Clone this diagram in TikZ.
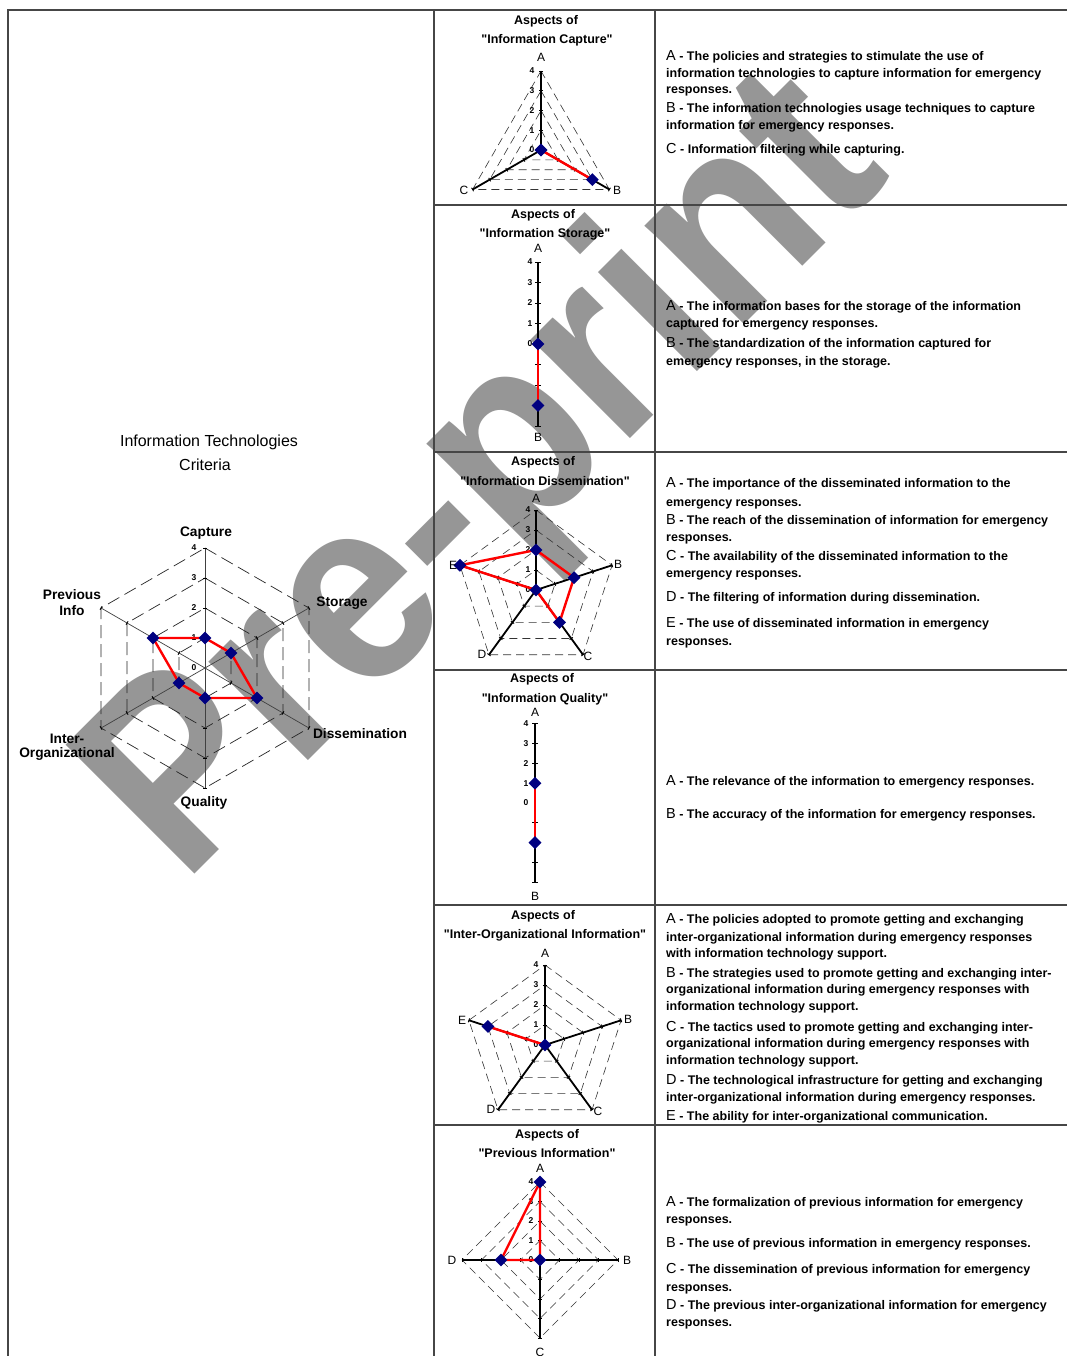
\documentclass[tikz,border=0pt]{standalone}
\usepackage{graphicx}
\usepackage{fontspec}
\setmainfont{Liberation Sans}[Ligatures=TeXOff]
\usetikzlibrary{shapes.geometric}
\definecolor{navyd}{RGB}{0,0,128}
\definecolor{wmgray}{RGB}{150,150,150}
\definecolor{framec}{RGB}{70,70,70}
\tikzset{
  frameline/.style={draw=framec, line width=1.1pt},
  wmark/.style={text=wmgray, inner sep=0pt, font=\fontsize{265}{265}\selectfont\bfseries},
  gridd/.style={dash pattern=on 8pt off 5pt, line width=0.6pt, draw=black!80},
  maingrid/.style={dash pattern=on 13pt off 6pt, line width=0.7pt, draw=black!85},
  mainaxis/.style={line width=0.7pt, draw=black!75},
  saxis/.style={line width=1.8pt, draw=black},
  tickl/.style={line width=0.9pt, draw=black},
  redl/.style={draw=red, line width=2.4pt, line join=round},
  mk/.style={diamond, fill=navyd, inner sep=0pt, minimum width=13pt, minimum height=13pt},
  num/.style={font=\fontsize{8.5}{9}\selectfont\bfseries, inner sep=0pt},
  letl/.style={font=\fontsize{12}{12}\selectfont, inner sep=0pt},
  ttl/.style={font=\fontsize{12.5}{14}\selectfont\bfseries, anchor=base, inner sep=0pt},
  mlab/.style={font=\fontsize{13.75}{15}\selectfont\bfseries, anchor=base, inner sep=0pt},
  mtitle/.style={font=\fontsize{16}{18}\selectfont, anchor=base, inner sep=0pt},
  desc/.style={font=\fontsize{12.5}{15}\selectfont\bfseries, anchor=base west, inner sep=0pt},
}
\newcommand{\Lt}[1]{{\fontsize{14.5}{15}\selectfont\mdseries #1}}
\newcounter{dlc}
\newcommand{\dl}[2]{\stepcounter{dlc}\node[desc] (dl\thedlc) at (666,#1) {#2};}
% #1 sides, #2 sides-1, #3 unit, #4 style
\newcommand{\rgrid}[4]{%
  \foreach \lv in {1,...,4}{%
    \draw[#4] (90:{\lv*#3}) \foreach \k in {1,...,#2}{ -- ({90-\k*360/#1}:{\lv*#3}) } -- cycle;
  }%
}
% #1 sides, #2 sides-1, #3 unit, #4 axis style, #5 tick half length
\newcommand{\raxes}[5]{%
  \foreach \k in {0,...,#2}{%
    \draw[#4] (0,0) -- ({90-\k*360/#1}:{4*#3});
    \foreach \lv in {1,...,4}{\draw[tickl, rotate={90-\k*360/#1}] ({\lv*#3},-#5) -- ({\lv*#3},#5);}
  }%
}
% #1 unit, #2 x offset
\newcommand{\rnums}[2]{%
  \foreach \lv in {0,...,4}{\node[num] at (#2,{\lv*#1}) {\lv};}%
}
\begin{document}
\begin{tikzpicture}[x=1pt, y=-1pt]
\useasboundingbox (0,0) rectangle (1067,1356);
\fill[white] (0,0) rectangle (1067,1356);

% watermark (behind)
\node[wmark, anchor=base west, rotate=45] (wm) at (183,886) {\scalebox{0.91}[1]{Pre-print}};

% frame
\draw[frameline] (8,1356) -- (8,10) -- (1067,10);
\draw[frameline] (434,10) -- (434,1356);
\draw[frameline] (655,10) -- (655,1356);
\foreach \yy in {205,452,670,905,1125} \draw[frameline] (434,\yy) -- (1067,\yy);

% ================= main chart =================
\node[mtitle] (mt1) at (209,446) {Information Technologies};
\node[mtitle] (mt2) at (205,470) {Criteria};
\begin{scope}[shift={(205,668)}, y=1pt]
  \rgrid{6}{5}{30}{maingrid}
  \raxes{6}{5}{30}{mainaxis}{2}
  \node[num] at (-11,0) {0};
  \foreach \lv in {1,...,4}{\node[num] at (-11,{\lv*30}) {\lv};}
  \coordinate (mC) at (90:30);
  \coordinate (mS) at (30:30);
  \coordinate (mD) at (-30:60);
  \coordinate (mQ) at (-90:30);
  \coordinate (mI) at (210:30);
  \coordinate (mP) at (150:60);
\end{scope}
\draw[redl] (mC) -- (mS) -- (mD) -- (mQ) -- (mI) -- (mP) -- cycle;
\foreach \p in {mC,mS,mD,mQ,mI,mP} \node[mk] (k\p) at (\p) {};
\node[mlab] (lcap) at (206,536) {Capture};
\node[mlab] (lsto) at (342,606) {Storage};
\node[mlab] (ldis) at (360,738) {Dissemination};
\node[mlab] (lqua) at (204,806) {Quality};
\node[mlab] (lint1) at (67,743) {Inter-};
\node[mlab] (lint2) at (67,757) {Organizational};
\node[mlab] (lpre1) at (72,599) {Previous};
\node[mlab] (lpre2) at (72,615) {Info};

% ================= capture =================
\node[ttl] (t1a) at (546,25) {Aspects of};
\node[ttl] (t1b) at (547,44) {"Information Capture"};
\begin{scope}[shift={(541,150)}, y=1pt]
  \rgrid{3}{2}{19.75}{gridd}
  \raxes{3}{2}{19.75}{saxis}{2}
  \rnums{19.75}{-9}
  \coordinate (cA) at (0,0);
  \coordinate (cB) at (-30:{3*19.75});
  \coordinate (cC) at (0,0);
\end{scope}
\draw[redl] (cA) -- (cB) -- (cC) -- cycle;
\foreach \p in {cA,cB,cC} \node[mk] (k\p) at (\p) {};
\node[letl] (c1) at (541,57) {A};
\node[letl] (c2) at (617,190) {B};
\node[letl] (c3) at (464,190) {C};

% ================= storage =================
\node[ttl] (t2a) at (543,219) {Aspects of};
\node[ttl] (t2b) at (545,238) {"Information Storage"};
\begin{scope}[shift={(538,344)}, y=1pt]
  \draw[saxis] (0,{4*20.5}) -- (0,{-4*20.5});
  \foreach \lv in {1,...,4}{\draw[tickl] (-3,{\lv*20.5}) -- (3,{\lv*20.5}); \draw[tickl] (-3,{-\lv*20.5}) -- (3,{-\lv*20.5});}
  \rnums{20.5}{-8}
  \coordinate (sA) at (0,0);
  \coordinate (sB) at (0,{-3*20.5});
\end{scope}
\draw[redl] (sA) -- (sB);
\foreach \p in {sA,sB} \node[mk] (k\p) at (\p) {};
\node[letl] (s1) at (538,248) {A};
\node[letl] (s2) at (538,437) {B};

% ================= dissemination =================
\node[ttl] (t3a) at (543,465) {Aspects of};
\node[ttl] (t3b) at (545,485) {"Information Dissemination"};
\begin{scope}[shift={(536,590)}, y=1pt]
  \rgrid{5}{4}{20}{gridd}
  \raxes{5}{4}{20}{saxis}{2}
  \rnums{20}{-8}
  \coordinate (dA) at (90:40);
  \coordinate (dB) at (18:40);
  \coordinate (dC) at (-54:40);
  \coordinate (dD) at (0,0);
  \coordinate (dE) at (162:80);
\end{scope}
\draw[redl] (dA) -- (dB) -- (dC) -- (dD) -- (dE) -- cycle;
\foreach \p in {dA,dB,dC,dD,dE} \node[mk] (k\p) at (\p) {};
\node[letl] (d1) at (536,498) {A};
\node[letl] (d2) at (618,564) {B};
\node[letl] (d3) at (588,656) {C};
\node[letl] (d4) at (482,654) {D};
\node[letl] (d5) at (453,565) {E};

% ================= quality =================
\node[ttl] (t4a) at (542,682) {Aspects of};
\node[ttl] (t4b) at (545,702) {"Information Quality"};
\begin{scope}[shift={(535,803)}, y=1pt]
  \draw[saxis] (0,{4*19.8}) -- (0,{-4*19.8});
  \foreach \lv in {1,...,4}{\draw[tickl] (-3,{\lv*19.8}) -- (3,{\lv*19.8}); \draw[tickl] (-3,{-\lv*19.8}) -- (3,{-\lv*19.8});}
  \rnums{19.8}{-9}
  \coordinate (qA) at (0,19.8);
  \coordinate (qB) at (0,{-2*19.8});
\end{scope}
\draw[redl] (qA) -- (qB);
\foreach \p in {qA,qB} \node[mk] (k\p) at (\p) {};
\node[letl] (q1) at (535,712) {A};
\node[letl] (q2) at (535,896) {B};

% ================= inter-organizational =================
\node[ttl] (t5a) at (543,919) {Aspects of};
\node[ttl] (t5b) at (545,938) {"Inter-Organizational Information"};
\begin{scope}[shift={(545,1045)}, y=1pt]
  \rgrid{5}{4}{20}{gridd}
  \raxes{5}{4}{20}{saxis}{2}
  \rnums{20}{-9}
  \coordinate (iA) at (0,0);
  \coordinate (iE) at (162:60);
\end{scope}
\draw[redl] (iA) -- (iE);
\foreach \p in {iA,iE} \node[mk] (k\p) at (\p) {};
\node[letl] (i1) at (545,953) {A};
\node[letl] (i2) at (628,1019) {B};
\node[letl] (i3) at (598,1111) {C};
\node[letl] (i4) at (491,1109) {D};
\node[letl] (i5) at (462,1020) {E};

% ================= previous =================
\node[ttl] (t6a) at (547,1138) {Aspects of};
\node[ttl] (t6b) at (547,1157) {"Previous Information"};
\begin{scope}[shift={(540,1260)}, y=1pt]
  \rgrid{4}{3}{19.5}{gridd}
  \raxes{4}{3}{19.5}{saxis}{2}
  \rnums{19.5}{-9}
  \coordinate (pA) at (90:78);
  \coordinate (pB) at (0,0);
  \coordinate (pC) at (0,0);
  \coordinate (pD) at (180:39);
\end{scope}
\draw[redl] (pA) -- (pB) -- (pC) -- (pD) -- cycle;
\foreach \p in {pA,pB,pD} \node[mk] (k\p) at (\p) {};
\node[letl] (p1) at (540,1168) {A};
\node[letl] (p2) at (627,1260) {B};
\node[letl] (p3) at (540,1352) {C};
\node[letl] (p4) at (452,1260) {D};

% ================= descriptions =================
\dl{61}{\Lt{A} - The policies and strategies to stimulate the use of}
\dl{78}{information technologies to capture information for emergency}
\dl{94}{responses.}
\dl{113}{\Lt{B} - The information technologies usage techniques to capture}
\dl{130}{information for emergency responses.}
\dl{154}{\Lt{C} - Information filtering while capturing.}

\dl{310}{\Lt{A} - The information bases for the storage of the information}
\dl{327}{captured for emergency responses.}
\dl{347}{\Lt{B} - The standardization of the information captured for}
\dl{365}{emergency responses, in the storage.}

\dl{487}{\Lt{A} - The importance of the disseminated information to the}
\dl{506}{emergency responses.}
\dl{524}{\Lt{B} - The reach of the dissemination of information for emergency}
\dl{541}{responses.}
\dl{560}{\Lt{C} - The availability of the disseminated information to the}
\dl{577}{emergency responses.}
\dl{601}{\Lt{D} - The filtering of information during dissemination.}
\dl{627}{\Lt{E} - The use of disseminated information in emergency}
\dl{645}{responses.}

\dl{785}{\Lt{A} - The relevance of the information to emergency responses.}
\dl{818}{\Lt{B} - The accuracy of the information for emergency responses.}

\dl{923}{\Lt{A} - The policies adopted to promote getting and exchanging}
\dl{941}{inter-organizational information during emergency responses}
\dl{957}{with information technology support.}
\dl{977}{\Lt{B} - The strategies used to promote getting and exchanging inter-}
\dl{993}{organizational information during emergency responses with}
\dl{1010}{information technology support.}
\dl{1031}{\Lt{C} - The tactics used to promote getting and exchanging inter-}
\dl{1047}{organizational information during emergency responses with}
\dl{1064}{information technology support.}
\dl{1084}{\Lt{D} - The technological infrastructure for getting and exchanging}
\dl{1101}{inter-organizational information during emergency responses.}
\dl{1120}{\Lt{E} - The ability for inter-organizational communication.}

\dl{1206}{\Lt{A} - The formalization of previous information for emergency}
\dl{1223}{responses.}
\dl{1247}{\Lt{B} - The use of previous information in emergency responses.}
\dl{1273}{\Lt{C} - The dissemination of previous information for emergency}
\dl{1291}{responses.}
\dl{1309}{\Lt{D} - The previous inter-organizational information for emergency}
\dl{1326}{responses.}
\end{tikzpicture}
\end{document}
